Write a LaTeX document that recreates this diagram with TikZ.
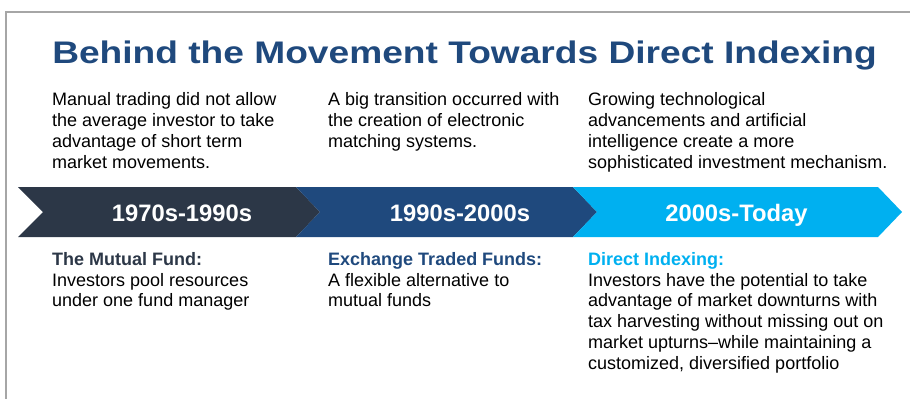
\documentclass[tikz,border=0pt]{standalone}
\usepackage{fontspec}
\setmainfont{Liberation Sans}
\newfontfamily\titlefont{Liberation Sans}[FakeStretch=1.19]
\definecolor{SlateDark}{HTML}{2C3747}
\definecolor{NavyBlue}{HTML}{1F497D}
\definecolor{SkyBlue}{HTML}{00B0F0}
\definecolor{FrameGray}{HTML}{A6A6A6}

\begin{document}
\begin{tikzpicture}[x=1pt,y=-1pt,
note/.style={anchor=north west,inner sep=0pt,align=left,font=\fontsize{18}{20.8}\selectfont},
era/.style={anchor=base,inner sep=0pt,text=white,font=\bfseries\fontsize{23.8}{24}\selectfont},
band/.style={draw=none}
]
\useasboundingbox (0,0) rectangle (910,399);
% frame
\draw[FrameGray,line width=1.2pt] (910,12) -- (6,12) -- (6,399);
\node[anchor=base,inner sep=0pt,text=NavyBlue,font=\titlefont\bfseries\fontsize{31.2}{32}\selectfont] (title) at (464.5,63.5) {Behind the Movement Towards Direct Indexing};

% timeline band
\fill[band,SlateDark] (18,187) -- (296,187) -- (320,212) -- (296,237) -- (18,237) -- (43,212) -- cycle;
\fill[band,NavyBlue] (296,187) -- (573,187) -- (597,212) -- (573,237) -- (296,237) -- (320,212) -- cycle;
\fill[band,SkyBlue] (573,187) -- (878,187) -- (902,212) -- (878,237) -- (573,237) -- (597,212) -- cycle;
\node[era] (era1) at (182,221) {1970s-1990s};
\node[era] (era2) at (460,221) {1990s-2000s};
\node[era] (era3) at (736.5,221) {2000s-Today};

% above the band
\node[note] (past) at (52,92.5) {Manual trading did not allow\\the average investor to take\\advantage of short term\\market movements.};
\node[note] (shift) at (328,92.5) {A big transition occurred with\\the creation of electronic\\matching systems.};
\node[note] (now) at (588,92.5) {Growing technological\\advancements and artificial\\intelligence create a more\\sophisticated investment mechanism.};

% below the band
\node[note] (fund) at (52,252) {\textcolor{SlateDark}{\bfseries The Mutual Fund:}\\Investors pool resources\\under one fund manager};
\node[note] (etf) at (328,252) {\textcolor{NavyBlue}{\bfseries Exchange Traded Funds:}\\A flexible alternative to\\mutual funds};
\node[note] (direct) at (588,252) {\textcolor{SkyBlue}{\bfseries Direct Indexing:}\\Investors have the potential to take\\advantage of market downturns with\\tax harvesting without missing out on\\market upturns--while maintaining a\\customized, diversified portfolio};
\end{tikzpicture}
\end{document}
